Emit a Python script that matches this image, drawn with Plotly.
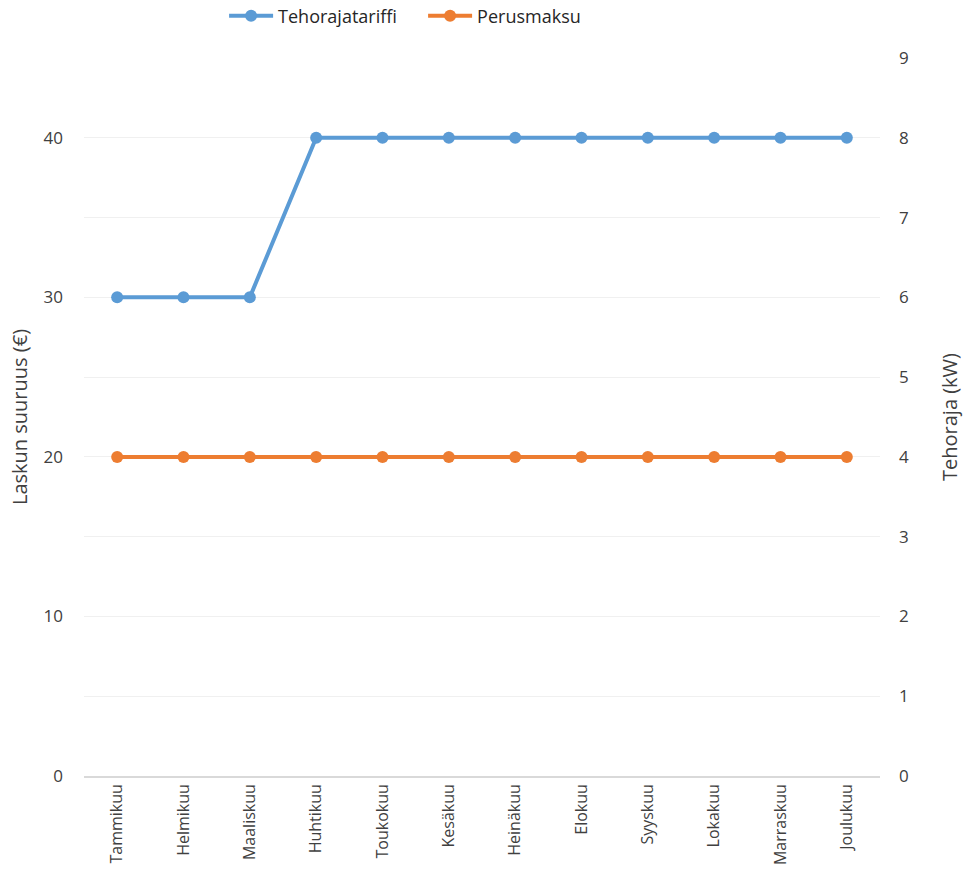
import plotly.graph_objects as go

months = ["Tammikuu", "Helmikuu", "Maaliskuu", "Huhtikuu", "Toukokuu", "Kesäkuu",
          "Heinäkuu", "Elokuu", "Syyskuu", "Lokakuu", "Marraskuu", "Joulukuu"]
# power limit per month in kW (right axis); 5 €/kW puts it on the € scale too
tehoraja_kw = [6, 6, 6, 8, 8, 8, 8, 8, 8, 8, 8, 8]
perusmaksu = [20, 20, 20, 20, 20, 20, 20, 20, 20, 20, 20, 20]

BLUE = "#5B9BD5"
ORANGE = "#ED7D31"
FONT = "Open Sans, Liberation Sans, sans-serif"

fig = go.Figure()
fig.add_trace(go.Scatter(x=months, y=tehoraja_kw, name="Tehorajatariffi",
                         mode="lines+markers", yaxis="y2",
                         line=dict(color=BLUE, width=4),
                         marker=dict(color=BLUE, size=12)))
fig.add_trace(go.Scatter(x=months, y=perusmaksu, name="Perusmaksu",
                         mode="lines+markers",
                         line=dict(color=ORANGE, width=4),
                         marker=dict(color=ORANGE, size=12)))

fig.update_layout(
    width=966, height=886,
    margin=dict(l=84, r=86, t=58, b=110),
    paper_bgcolor="white", plot_bgcolor="white",
    font=dict(family=FONT, color="#404040", size=16),
    legend=dict(orientation="h", x=0.176, xanchor="left", y=0.982, yanchor="middle",
                yref="container", font=dict(size=18, color="#262626"),
                itemwidth=44, entrywidth=140, entrywidthmode="pixels"),
    xaxis=dict(type="category", range=[-0.5, 11.5], tickangle=-90,
               showgrid=False, showline=True, linecolor="#d9d9d9", linewidth=1.5,
               ticks="", tickfont=dict(size=16), zeroline=False, automargin=False),
    yaxis=dict(range=[0, 45], tickvals=[0, 10, 20, 30, 40], showgrid=True,
               gridcolor="#d9d9d9", gridwidth=1, zeroline=False, ticks="",
               ticklabelstandoff=20, automargin=False,
               title=dict(text="Laskun suuruus (€)", font=dict(size=20), standoff=10),
               tickfont=dict(size=17)),
    yaxis2=dict(range=[0, 9], dtick=1, overlaying="y", side="right",
                showgrid=True, gridcolor="#f0f0f0", gridwidth=1, zeroline=False,
                ticks="", ticklabelstandoff=18, automargin=False,
                title=dict(text="Tehoraja (kW)", font=dict(size=20), standoff=34),
                tickfont=dict(size=17)),
)

fig.write_html("out.html")
